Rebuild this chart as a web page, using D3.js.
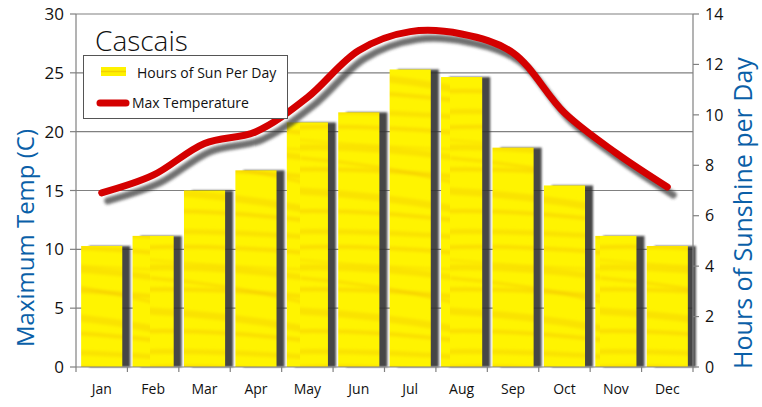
<!DOCTYPE html>
<html><head><meta charset="utf-8">
<script src="https://cdn.jsdelivr.net/npm/d3@7"></script>
<style>body{margin:0;background:#fff}svg{display:block}text{font-family:"Open Sans",sans-serif}</style>
</head><body><div id="c"></div>
<script>
const months = ["Jan","Feb","Mar","Apr","May","Jun","Jul","Aug","Sep","Oct","Nov","Dec"];
const sunHours = [4.8,5.2,7.0,7.8,9.7,10.1,11.8,11.5,8.7,7.2,5.2,4.8];
const maxTemp = [14.8,16.3,19.0,20.0,22.9,26.9,28.5,28.3,26.7,21.6,18.2,15.3];
const tempTicks = [0,5,10,15,20,25,30];
const sunTicks = [0,2,4,6,8,10,12,14];
const title = "Cascais";
const legendLabels = ["Hours of Sun Per Day","Max Temperature"];
const axisTitles = ["Maximum Temp (C)","Hours of Sunshine per Day"];

const W=762,H=407, L=76, R=693, T=14, B=367;
const svg=d3.select("#c").append("svg").attr("width",W).attr("height",H);
const defs=svg.append("defs");
const blur=defs.append("filter").attr("id","blur").attr("x","-20%").attr("y","-20%").attr("width","140%").attr("height","140%");
blur.append("feGaussianBlur").attr("stdDeviation",1.6);
const blur2=defs.append("filter").attr("id","blur2").attr("x","-20%").attr("y","-5%").attr("width","140%").attr("height","110%");
blur2.append("feGaussianBlur").attr("stdDeviation",0.8);
const blur3=defs.append("filter").attr("id","blur3").attr("x","-10%").attr("y","-30%").attr("width","120%").attr("height","160%");
blur3.append("feGaussianBlur").attr("stdDeviation",1.4);
const pat=defs.append("pattern").attr("id","tex").attr("patternUnits","userSpaceOnUse").attr("width",150).attr("height",120);
pat.append("rect").attr("width",150).attr("height",120).attr("fill","#fff400");
const sg=pat.append("g").attr("filter","url(#blur3)");
const streaks=[["M-20,8 Q60,4 170,14",4,0.35],["M-20,28 Q70,24 170,40",6,0.3],["M-20,50 Q60,47 170,58",4,0.35],["M-20,70 Q80,74 170,92",7,0.3],["M-20,92 Q50,88 170,102",4,0.35],["M0,38 Q80,44 160,64",3,0.35],["M-20,112 Q60,110 170,118",5,0.3],["M-20,18 Q60,26 170,30",2,0.3]];
streaks.forEach(s=>sg.append("path").attr("d",s[0]).attr("fill","none").attr("stroke","#f0b800").attr("stroke-width",s[1]).attr("opacity",s[2]));

const x=d3.scaleBand().domain(months).range([L,R]).padding(0);
const yL=d3.scaleLinear().domain([0,30]).range([B,T]);
const yR=d3.scaleLinear().domain([0,14]).range([B,T]);
const bw=x.bandwidth();

// gridlines
svg.append("g").selectAll("line").data(tempTicks.filter(d=>d>0)).join("line")
 .attr("x1",L).attr("x2",R).attr("y1",d=>yL(d)).attr("y2",d=>yL(d)).attr("stroke","#808080").attr("stroke-width",1.2);

// bar shadows
svg.append("g").selectAll("rect").data(months).join("rect")
 .attr("x",(d,i)=>x(d)+bw*0.1+8).attr("y",(d,i)=>yR(sunHours[i])).attr("width",bw*0.8).attr("height",(d,i)=>B-yR(sunHours[i]))
 .attr("fill","#303030").attr("opacity",0.9).attr("filter","url(#blur2)");
// bars
svg.append("g").selectAll("rect").data(months).join("rect")
 .attr("x",(d,i)=>x(d)+bw*0.1).attr("y",(d,i)=>yR(sunHours[i])).attr("width",bw*0.8).attr("height",(d,i)=>B-yR(sunHours[i]))
 .attr("fill","url(#tex)");

// axes
const ax=svg.append("g").attr("stroke","#808080").attr("stroke-width",1.2);
ax.append("line").attr("x1",L).attr("x2",L).attr("y1",T).attr("y2",B);
ax.append("line").attr("x1",R).attr("x2",R).attr("y1",T).attr("y2",B);
ax.append("line").attr("x1",L).attr("x2",R).attr("y1",B).attr("y2",B);
tempTicks.forEach(t=>ax.append("line").attr("x1",L-6).attr("x2",L).attr("y1",yL(t)).attr("y2",yL(t)));
sunTicks.forEach(t=>ax.append("line").attr("x1",R).attr("x2",R+6).attr("y1",yR(t)).attr("y2",yR(t)));
months.concat(["_end"]).forEach((m,i)=>{const xx=L+i*bw;ax.append("line").attr("x1",xx).attr("x2",xx).attr("y1",B).attr("y2",B+5);});

svg.append("g").selectAll("text").data(tempTicks).join("text")
 .attr("x",L-12).attr("y",d=>yL(d)).attr("dy","0.36em").attr("text-anchor","end").attr("font-size",17).attr("fill","#111").text(d=>d);
svg.append("g").selectAll("text").data(sunTicks).join("text")
 .attr("x",R+12).attr("y",d=>yR(d)).attr("dy","0.36em").attr("text-anchor","start").attr("font-size",16).attr("fill","#111").text(d=>d);
svg.append("g").selectAll("text").data(months).join("text")
 .attr("x",d=>x(d)+bw/2).attr("y",394).attr("text-anchor","middle").attr("font-size",14).attr("fill","#111").text(d=>d);

// temperature line
const line=d3.line().x((d,i)=>x(months[i])+bw/2).y(d=>yL(d)).curve(d3.curveCatmullRom.alpha(0.5));
svg.append("path").datum(maxTemp).attr("d",line).attr("transform","translate(6,8)").attr("fill","none")
 .attr("stroke","#333").attr("stroke-width",7).attr("stroke-linecap","round").attr("opacity",0.7).attr("filter","url(#blur)");
svg.append("path").datum(maxTemp).attr("d",line).attr("fill","none")
 .attr("stroke","#d40000").attr("stroke-width",7).attr("stroke-linecap","round");

// title
svg.append("text").attr("x",95).attr("y",51).attr("font-size",28).attr("fill","#111").attr("font-weight",300).text(title);
// legend
svg.append("rect").attr("x",83.5).attr("y",55.5).attr("width",204).attr("height",63).attr("fill","#fff").attr("stroke","#555").attr("stroke-width",1);
svg.append("rect").attr("x",101).attr("y",67).attr("width",25).attr("height",9).attr("fill","#fff200");
svg.append("line").attr("x1",101).attr("x2",126).attr("y1",71.5).attr("y2",71.5).attr("stroke","#f2d000").attr("stroke-width",1.5);
svg.append("text").attr("x",137).attr("y",78).attr("font-size",14).attr("fill","#111").text(legendLabels[0]);
svg.append("line").attr("x1",100).attr("x2",126).attr("y1",103).attr("y2",103).attr("stroke","#d40000").attr("stroke-width",7).attr("stroke-linecap","round");
svg.append("text").attr("x",132).attr("y",108).attr("font-size",14).attr("fill","#111").text(legendLabels[1]);

// axis titles
svg.append("text").attr("transform","translate(34,238) rotate(-90)").attr("text-anchor","middle").attr("font-size",24).attr("fill","#0a5fa8").text(axisTitles[0]);
svg.append("text").attr("transform","translate(752,213) rotate(-90)").attr("text-anchor","middle").attr("font-size",25).attr("fill","#0a5fa8").text(axisTitles[1]);
</script></body></html>
